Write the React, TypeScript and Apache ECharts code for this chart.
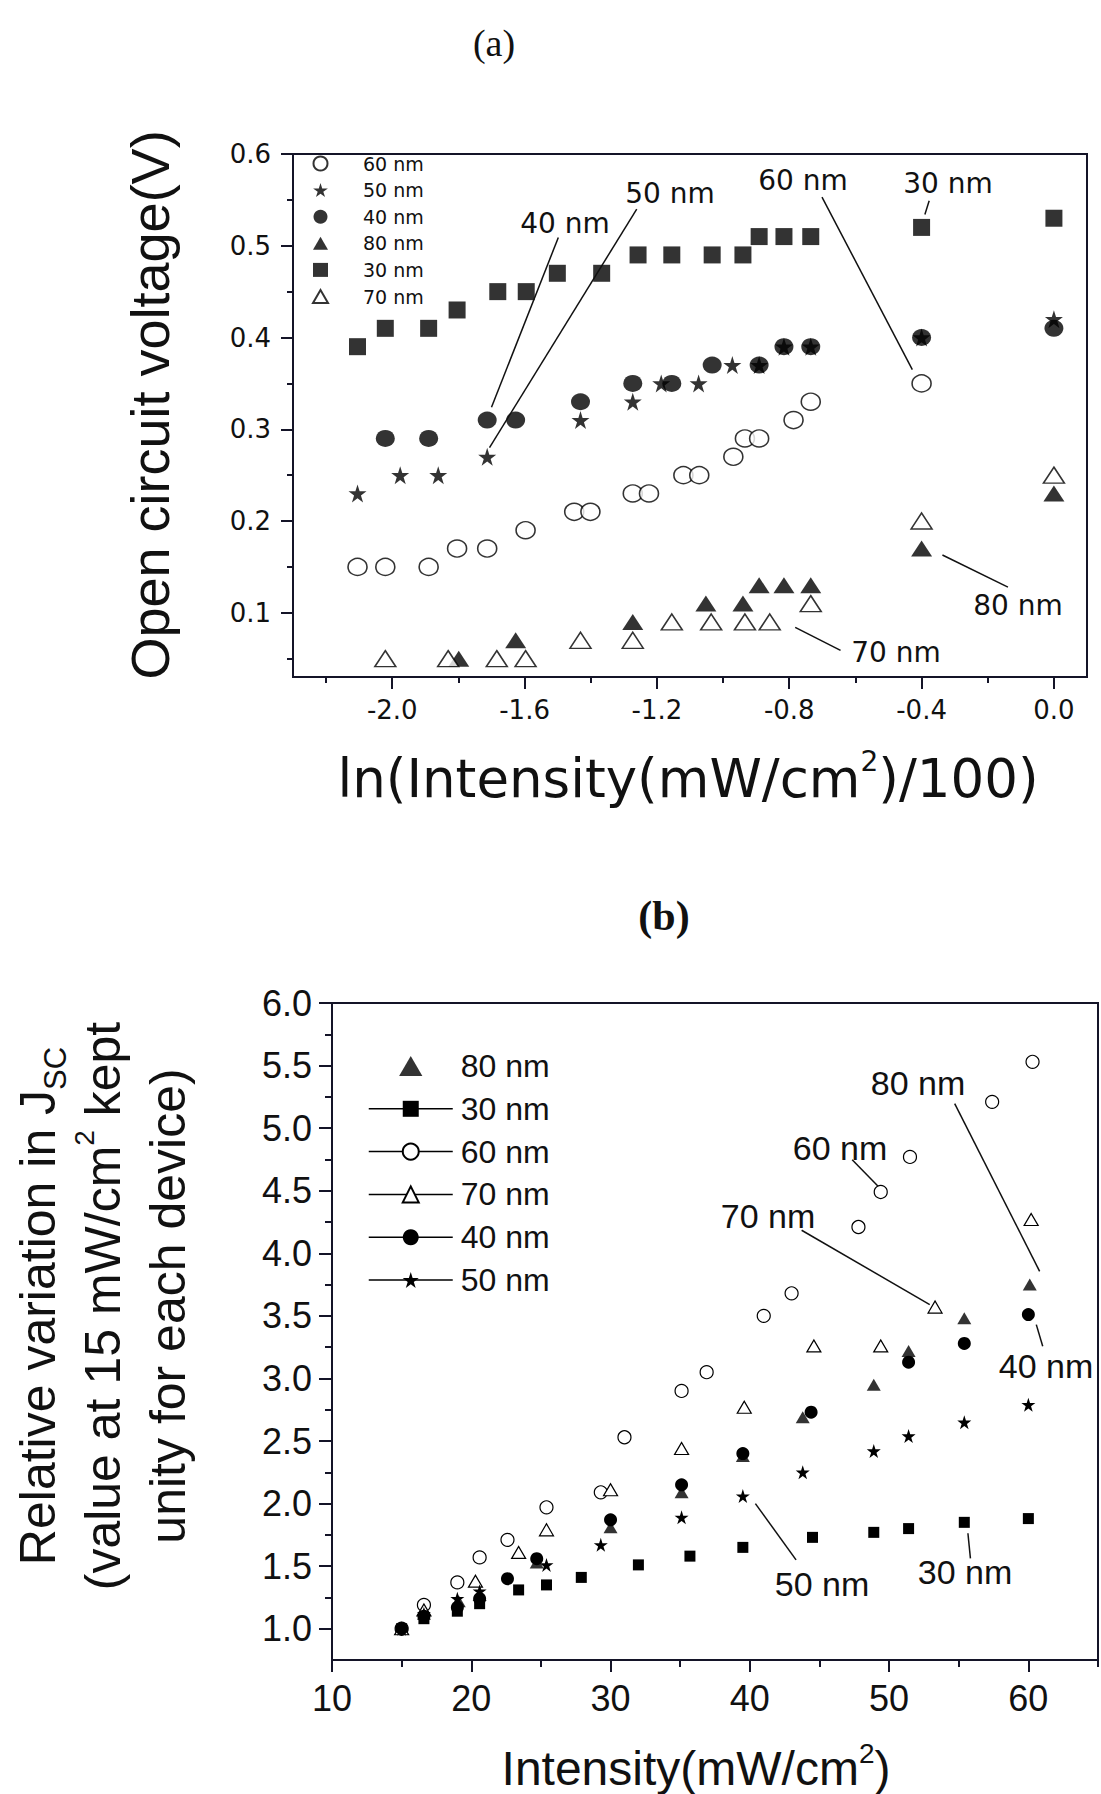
import React, { useEffect, useRef } from 'react';
import * as echarts from 'echarts';

// ---------- Chart (a): Voc vs ln(I/100) ----------
const aSeriesNames = ['60 nm', '50 nm', '40 nm', '80 nm', '30 nm', '70 nm'];
const a60 = [[-2.105, 0.15], [-2.021, 0.15], [-1.89, 0.15], [-1.804, 0.17], [-1.713, 0.17], [-1.597, 0.19], [-1.45, 0.21], [-1.401, 0.21], [-1.273, 0.23], [-1.224, 0.23], [-1.12, 0.25], [-1.072, 0.25], [-0.969, 0.27], [-0.934, 0.29], [-0.891, 0.29], [-0.787, 0.31], [-0.735, 0.33], [-0.4, 0.35]];
const a50 = [[-2.105, 0.23], [-1.976, 0.25], [-1.861, 0.25], [-1.713, 0.27], [-1.431, 0.31], [-1.273, 0.33], [-1.187, 0.35], [-1.074, 0.35], [-0.972, 0.37], [-0.891, 0.37], [-0.816, 0.39], [-0.735, 0.39], [-0.4, 0.4], [0.0, 0.42]];
const a40 = [[-2.021, 0.29], [-1.89, 0.29], [-1.713, 0.31], [-1.627, 0.31], [-1.431, 0.33], [-1.273, 0.35], [-1.155, 0.35], [-1.033, 0.37], [-0.891, 0.37], [-0.816, 0.39], [-0.735, 0.39], [-0.4, 0.4], [0.0, 0.41]];
const a80 = [[-1.799, 0.05], [-1.627, 0.07], [-1.273, 0.09], [-1.052, 0.11], [-0.94, 0.11], [-0.891, 0.13], [-0.816, 0.13], [-0.735, 0.13], [-0.4, 0.17], [0.0, 0.23]];
const a30 = [[-2.105, 0.39], [-2.021, 0.41], [-1.89, 0.41], [-1.804, 0.43], [-1.681, 0.45], [-1.595, 0.45], [-1.501, 0.47], [-1.367, 0.47], [-1.257, 0.49], [-1.155, 0.49], [-1.033, 0.49], [-0.94, 0.49], [-0.891, 0.51], [-0.816, 0.51], [-0.735, 0.51], [-0.4, 0.52], [0.0, 0.53]];
const a70 = [[-2.021, 0.05], [-1.831, 0.05], [-1.684, 0.05], [-1.597, 0.05], [-1.431, 0.07], [-1.273, 0.07], [-1.155, 0.09], [-1.036, 0.09], [-0.934, 0.09], [-0.859, 0.09], [-0.735, 0.11], [-0.4, 0.2], [0.0, 0.25]];
const aXMajor = [-2.0, -1.6, -1.2, -0.8, -0.4, 0.0];
const aXMinor = [-2.2, -1.8, -1.4, -1.0, -0.6, -0.2];
const aYMajor = [0.1, 0.2, 0.3, 0.4, 0.5, 0.6];
const aYMinor = [0.05, 0.15, 0.25, 0.35, 0.45, 0.55];
// arrows: [from, to] in data coordinates
const aArrows = [
  [[-1.498, 0.509], [-1.7, 0.324]],
  [[-1.261, 0.54], [-1.706, 0.28]],
  [[-0.701, 0.553], [-0.428, 0.365]],
  [[-0.377, 0.549], [-0.39, 0.534]],
  [[-0.139, 0.128], [-0.337, 0.163]],
  [[-0.645, 0.059], [-0.782, 0.084]],
];
const aNotes = ['40 nm', '50 nm', '60 nm', '30 nm', '80 nm', '70 nm'];

// ---------- Chart (b): relative Jsc vs intensity ----------
const bSeriesNames = ['80 nm', '30 nm', '60 nm', '70 nm', '40 nm', '50 nm'];
const b80 = [[15, 1.0], [16.6, 1.12], [19.1, 1.22], [20.6, 1.27], [24.7, 1.53], [30, 1.81], [35.1, 2.09], [39.5, 2.38], [43.8, 2.69], [48.9, 2.95], [51.4, 3.22], [55.4, 3.48], [60.1, 3.75]];
const b30 = [[15, 1.0], [16.6, 1.08], [19.0, 1.14], [20.6, 1.2], [23.4, 1.31], [25.4, 1.35], [27.9, 1.41], [32.0, 1.51], [35.7, 1.58], [39.5, 1.65], [44.5, 1.73], [48.9, 1.77], [51.4, 1.8], [55.4, 1.85], [60, 1.88]];
const b60 = [[15, 1.0], [16.6, 1.19], [19.0, 1.37], [20.6, 1.57], [22.6, 1.71], [25.4, 1.97], [29.3, 2.09], [31.0, 2.53], [35.1, 2.9], [36.9, 3.05], [41.0, 3.5], [43.0, 3.68], [47.8, 4.21], [49.4, 4.49], [51.5, 4.77], [57.4, 5.21], [60.3, 5.53]];
const b70 = [[15, 1.0], [16.6, 1.15], [20.3, 1.38], [23.4, 1.61], [25.4, 1.79], [30.0, 2.11], [35.1, 2.44], [39.6, 2.77], [44.6, 3.26], [49.4, 3.26], [53.3, 3.57], [60.2, 4.27]];
const b40 = [[15, 1.0], [16.6, 1.1], [19.0, 1.17], [20.6, 1.24], [22.6, 1.4], [24.7, 1.56], [30.0, 1.87], [35.1, 2.15], [39.5, 2.4], [44.4, 2.73], [51.4, 3.13], [55.4, 3.28], [60, 3.51]];
const b50 = [[15, 1.0], [16.6, 1.12], [19.0, 1.24], [20.6, 1.3], [25.4, 1.51], [29.3, 1.67], [35.1, 1.89], [39.5, 2.06], [43.8, 2.25], [48.9, 2.42], [51.4, 2.54], [55.4, 2.65], [60, 2.79]];
const bXMajor = [10, 20, 30, 40, 50, 60];
const bXMinor = [15, 25, 35, 45, 55, 65];
const bYMajor = [1.0, 1.5, 2.0, 2.5, 3.0, 3.5, 4.0, 4.5, 5.0, 5.5, 6.0];
const bYMinor = [1.25, 1.75, 2.25, 2.75, 3.25, 3.75, 4.25, 4.75, 5.25, 5.75];
const bArrows = [
  [[54.71, 5.196], [60.81, 3.856]],
  [[47.35, 4.748], [49.21, 4.535]],
  [[43.72, 4.184], [52.92, 3.59]],
  [[61.03, 3.257], [60.57, 3.43]],
  [[43.32, 1.55], [40.4, 2.0]],
  [[55.84, 1.562], [55.66, 1.763]],
];
const bNotes = ['80 nm', '60 nm', '70 nm', '40 nm', '50 nm', '30 nm'];

const STAR = 'path://M50,0L61.2,34.5L97.6,34.5L68.2,55.9L79.4,90.5L50,69.1L20.6,90.5L31.8,55.9L2.4,34.5L38.8,34.5Z';
const TRI = 'path://M50,0L100,86L0,86Z';
const INK = '#141428';
const SANS = '"Liberation Sans", Arial, sans-serif';
const WIDE = '"DejaVu Sans", sans-serif';
const SERIF = '"Liberation Serif", "Times New Roman", serif';
const filled = { color: '#000' };
const hollow = { color: '#fff', borderColor: '#000', borderWidth: 1.5 };

function axisPair(kind: 'x' | 'y', min: number, max: number, major: number[], minor: number[], font: any, margin: number, majorLen: number, minorLen: number, intLabels: boolean) {
  const fmt = intLabels ? (v: number) => String(Math.round(v)) : (v: number) => (Math.abs(v) < 1e-9 ? '0.0' : v.toFixed(1));
  const main: any = {
    type: 'value', gridIndex: 0, min, max,
    position: kind === 'x' ? 'bottom' : 'left',
    axisLine: { show: true, onZero: false, lineStyle: { color: INK, width: 2 } },
    axisTick: { show: true, inside: false, length: majorLen, customValues: major, lineStyle: { color: INK, width: 2 } },
    axisLabel: { show: true, customValues: major, formatter: fmt, color: '#111', margin, ...font },
    splitLine: { show: false },
  };
  const sub: any = {
    type: 'value', gridIndex: 0, min, max,
    position: kind === 'x' ? 'bottom' : 'left',
    axisLine: { show: false, onZero: false },
    axisTick: { show: true, inside: false, length: minorLen, customValues: minor, lineStyle: { color: INK, width: 2 } },
    axisLabel: { show: false },
    splitLine: { show: false },
  };
  return [main, sub];
}

function arrowLines(arr: any[]) {
  return {
    silent: true, animation: false,
    symbol: ['none', 'arrow'], symbolSize: [0, 12],
    lineStyle: { color: '#111', width: 1.5, type: 'solid' },
    label: { show: false },
    emphasis: { disabled: true },
    data: arr.map((p: any) => [{ coord: p[0] }, { coord: p[1] }]),
  };
}

function textEl(text: string, x: number, y: number, size: number, family: string, extra: any = {}) {
  return {
    type: 'text', x, y, silent: true,
    style: { text, fill: '#111', fontSize: size, fontFamily: family, align: 'center', verticalAlign: 'middle', ...extra },
  };
}

function optionA(): any {
  const [xm, xs] = axisPair('x', -2.3, 0.1, aXMajor, aXMinor, { fontSize: 26, fontFamily: WIDE }, 20, 12, 6, false);
  const [ym, ys] = axisPair('y', 0.03, 0.6, aYMajor, aYMinor, { fontSize: 26, fontFamily: WIDE }, 22, 12, 6, false);
  const mk = (name: string, data: number[][], symbol: string, size: any, style: any, z: number) => ({
    type: 'scatter', name, data, symbol, symbolSize: size, itemStyle: style, z,
    xAxisIndex: 0, yAxisIndex: 0, emphasis: { disabled: true },
  });
  const series: any[] = [
    mk('60 nm', a60, 'circle', [19, 17], hollow, 2),
    mk('50 nm', a50, STAR, 18, filled, 3),
    mk('40 nm', a40, 'circle', [19, 17], filled, 3),
    mk('80 nm', a80, 'triangle', [21, 16], filled, 2),
    mk('30 nm', a30, 'rect', 17, filled, 2),
    mk('70 nm', a70, 'triangle', [21, 16], hollow, 3),
  ];
  series[4].markLine = arrowLines(aArrows);
  const notePos = [[565, 223], [670, 193], [803, 180], [948, 183], [1018, 605], [896, 652]];
  return {
    animation: false,
    backgroundColor: 'transparent',
    grid: [{ left: 293, top: 154, width: 794, height: 523, show: true, borderColor: INK, borderWidth: 2, backgroundColor: 'transparent' }],
    xAxis: [xm, xs],
    yAxis: [ym, ys],
    legend: {
      data: aSeriesNames.map((n) => (n === '80 nm' || n === '70 nm' ? { name: n, icon: TRI } : n)),
      orient: 'vertical', left: 312, top: 154, padding: 0,
      itemWidth: 15, itemHeight: 14, itemGap: 7.6, selectedMode: false,
      textStyle: { fontSize: 19, fontFamily: WIDE, color: '#111', lineHeight: 14, padding: [0, 0, 0, 30] },
    },
    series,
    graphic: [
      textEl('(a)', 494, 43, 38, SERIF),
      { ...textEl('Open circuit voltage(V)', 150, 405, 54, SANS), rotation: Math.PI / 2 },
      {
        type: 'text', x: 688, y: 778, silent: true,
        style: {
          text: 'ln(Intensity(mW/cm{sup|2})/100)', fill: '#111', fontSize: 53, fontFamily: WIDE,
          align: 'center', verticalAlign: 'middle', lineHeight: 62,
          rich: { sup: { fontSize: 28, fontFamily: WIDE, fill: '#111', verticalAlign: 'top', lineHeight: 36 } },
        },
      },
      ...aNotes.map((t, i) => textEl(t, notePos[i][0], notePos[i][1], 28, WIDE)),
    ],
  };
}

function optionB(): any {
  const [xm, xs] = axisPair('x', 10, 65, bXMajor, bXMinor, { fontSize: 36, fontFamily: SANS }, 20, 12, 7, true);
  const [ym, ys] = axisPair('y', 0.75, 6.0, bYMajor, bYMinor, { fontSize: 36, fontFamily: SANS }, 20, 13, 7, false);
  const lineOpts = { lineStyle: { color: '#000', width: 1.5, opacity: 0 }, showSymbol: true };
  const mk = (type: string, name: string, data: number[][], symbol: string, size: any, style: any) => ({
    type, name, data, symbol, symbolSize: size, itemStyle: style,
    xAxisIndex: 0, yAxisIndex: 0, emphasis: { disabled: true },
    ...(type === 'line' ? lineOpts : {}),
  });
  const openB = { color: '#fff', borderColor: '#000', borderWidth: 1.2 };
  const series: any[] = [
    mk('scatter', '80 nm', b80, 'triangle', [14, 12], filled),
    mk('line', '30 nm', b30, 'rect', 11, filled),
    mk('line', '60 nm', b60, 'circle', 13, openB),
    mk('line', '70 nm', b70, 'triangle', [14, 12], openB),
    mk('line', '40 nm', b40, 'circle', 13, filled),
    mk('line', '50 nm', b50, STAR, 14, filled),
  ];
  series[1].markLine = arrowLines(bArrows);
  const off = 800;
  const notePos = [[918, 1083], [840, 1148], [768, 1216], [1046, 1366], [822, 1584], [965, 1572]];
  return {
    animation: false,
    backgroundColor: 'transparent',
    grid: [{ left: 332, top: 203, width: 766, height: 657, show: true, borderColor: INK, borderWidth: 2, backgroundColor: 'transparent' }],
    xAxis: [xm, xs],
    yAxis: [ym, ys],
    legend: {
      data: bSeriesNames.map((n) => (n === '80 nm' ? { name: n, icon: TRI, itemStyle: { color: '#000' } } : n)),
      orient: 'vertical', left: 368, top: 250, padding: 0,
      itemWidth: 84, itemHeight: 20, itemGap: 10.8, selectedMode: false,
      lineStyle: { color: '#000', width: 1.5, opacity: 1, type: 'solid' },
      textStyle: { fontSize: 32, fontFamily: SANS, color: '#111', lineHeight: 22, padding: [0, 0, 0, 3] },
    },
    series,
    graphic: [
      textEl('(b)', 664, 916 - off, 42, SERIF, { fontWeight: 'bold' }),
      {
        type: 'text', x: 103, y: 1306 - off, rotation: Math.PI / 2, silent: true,
        style: {
          text: 'Relative variation in J{sub|SC}\n(value at 15 mW/cm{sup|2} kept\nunity for each device)',
          fill: '#111', fontSize: 50, fontFamily: SANS, align: 'center', verticalAlign: 'middle', lineHeight: 65,
          rich: {
            sub: { fontSize: 31, fontFamily: SANS, fill: '#111', verticalAlign: 'bottom', lineHeight: 42 },
            sup: { fontSize: 28, fontFamily: SANS, fill: '#111', verticalAlign: 'top', lineHeight: 42 },
          },
        },
      },
      {
        type: 'text', x: 696, y: 1768 - off, silent: true,
        style: {
          text: 'Intensity(mW/cm{sup|2})', fill: '#111', fontSize: 48, fontFamily: SANS,
          align: 'center', verticalAlign: 'middle', lineHeight: 58,
          rich: { sup: { fontSize: 28, fontFamily: SANS, fill: '#111', verticalAlign: 'top', lineHeight: 34 } },
        },
      },
      ...bNotes.map((t, i) => textEl(t, notePos[i][0], notePos[i][1] - off, 34, SANS)),
    ],
  };
}

export default function App() {
  const refA = useRef<HTMLDivElement>(null);
  const refB = useRef<HTMLDivElement>(null);
  useEffect(() => {
    const a = echarts.init(refA.current as HTMLDivElement, null, { renderer: 'svg' });
    a.setOption(optionA());
    const b = echarts.init(refB.current as HTMLDivElement, null, { renderer: 'svg' });
    b.setOption(optionB());
    return () => {
      a.dispose();
      b.dispose();
    };
  }, []);
  return (
    <div style={{ position: 'absolute', left: 0, top: 0, width: 1101, height: 1794, background: '#fff', overflow: 'hidden' }}>
      <div ref={refA} style={{ position: 'absolute', left: 0, top: 0, width: 1101, height: 860 }} />
      <div ref={refB} style={{ position: 'absolute', left: 0, top: 800, width: 1101, height: 994 }} />
    </div>
  );
}
